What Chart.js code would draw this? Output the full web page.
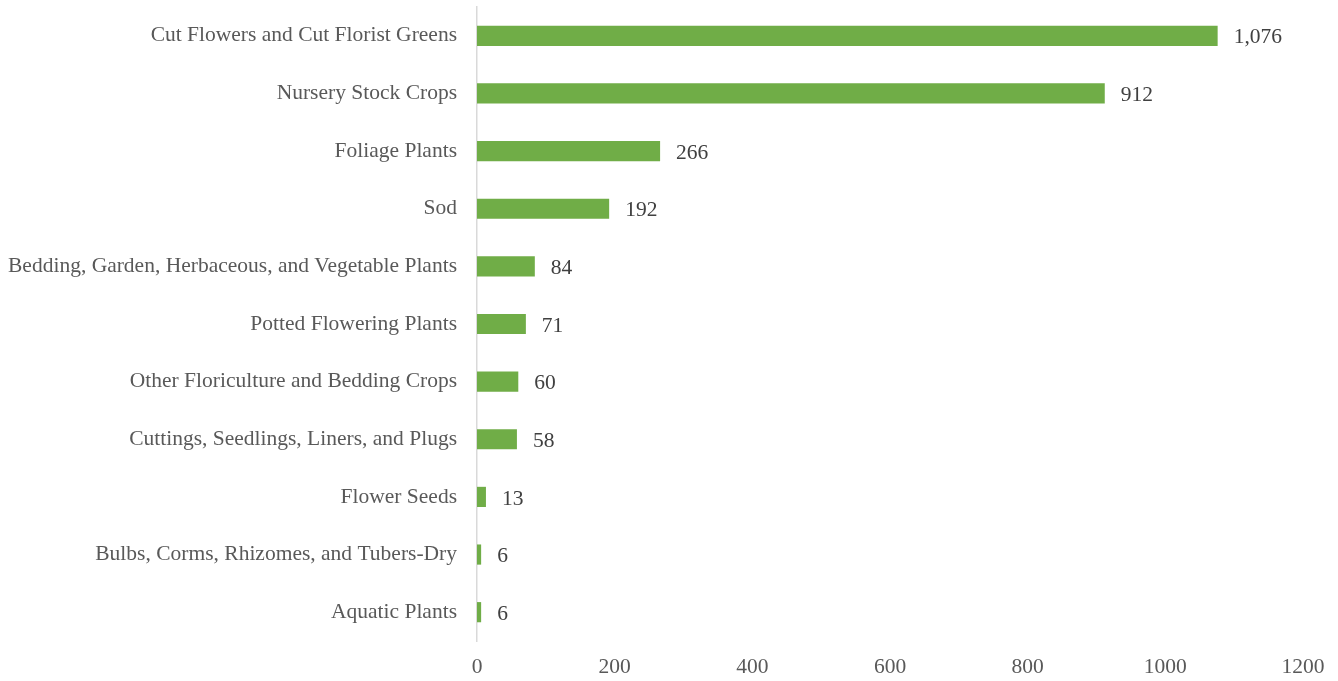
<!DOCTYPE html>
<html>
<head>
<meta charset="utf-8">
<script src="https://cdn.jsdelivr.net/npm/chart.js@4/dist/chart.umd.min.js"></script>
<style>
  body { margin: 0; background: #fff; }
  #wrap { width: 1338px; height: 681px; }
</style>
</head>
<body>
<div id="wrap"><canvas id="myChart" width="1338" height="681"></canvas></div>
<script>
var categories = [
    "Cut Flowers and Cut Florist Greens",
    "Nursery Stock Crops",
    "Foliage Plants",
    "Sod",
    "Bedding, Garden, Herbaceous, and Vegetable Plants",
    "Potted Flowering Plants",
    "Other Floriculture and Bedding Crops",
    "Cuttings, Seedlings, Liners, and Plugs",
    "Flower Seeds",
    "Bulbs, Corms, Rhizomes, and Tubers-Dry",
    "Aquatic Plants"
];
var values = [1076, 912, 266, 192, 84, 71, 60, 58, 13, 6, 6];
var xTicks = [0, 200, 400, 600, 800, 1000, 1200];

var FONT = "'Liberation Serif', 'Times New Roman', serif";

// draw the value next to the end of each bar
var valueLabels = {
    id: 'valueLabels',
    afterDatasetsDraw: function(chart) {
        var ctx = chart.ctx;
        var meta = chart.getDatasetMeta(0);
        ctx.save();
        ctx.font = "21.5px " + FONT;
        ctx.fillStyle = '#404040';
        ctx.textAlign = 'left';
        ctx.textBaseline = 'middle';
        meta.data.forEach(function(bar, i) {
            ctx.fillText(values[i].toLocaleString('en-US'), bar.x + 16, bar.y + 2);
        });
        ctx.restore();
    }
};

var ctx = document.getElementById('myChart').getContext('2d');
globalThis.chart = new Chart(ctx, {
    type: 'bar',
    data: {
        labels: categories,
        datasets: [{
            data: values,
            backgroundColor: '#70AD47',
            borderWidth: 0,
            categoryPercentage: 1,
            barPercentage: 0.35
        }]
    },
    options: {
        indexAxis: 'y',
        responsive: false,
        animation: false,
        layout: { padding: { top: 7, right: 35, left: 0, bottom: 0 } },
        plugins: {
            legend: { display: false },
            tooltip: { enabled: false }
        },
        scales: {
            x: {
                min: 0,
                max: 1200,
                afterBuildTicks: function(scale) {
                    scale.ticks = xTicks.map(function(v) { return { value: v }; });
                },
                grid: { display: false, drawTicks: false },
                border: { display: false },
                ticks: {
                    padding: 13,
                    color: '#595959',
                    font: { family: FONT, size: 21.5 },
                    callback: function(v) { return String(v); }
                },
                afterFit: function(scale) {
                    scale.height = 40;
                    scale.paddingLeft = 0;
                    scale.paddingRight = 0;
                }
            },
            y: {
                grid: { display: false, drawTicks: false },
                border: { display: true, color: '#d9d9d9', width: 1.5 },
                ticks: {
                    padding: 20,
                    color: '#595959',
                    font: { family: FONT, size: 21.5 }
                },
                afterFit: function(scale) {
                    scale.width = 477;
                    scale.paddingTop = 0;
                    scale.paddingBottom = 0;
                }
            }
        }
    },
    plugins: [valueLabels]
});
</script>
</body>
</html>
